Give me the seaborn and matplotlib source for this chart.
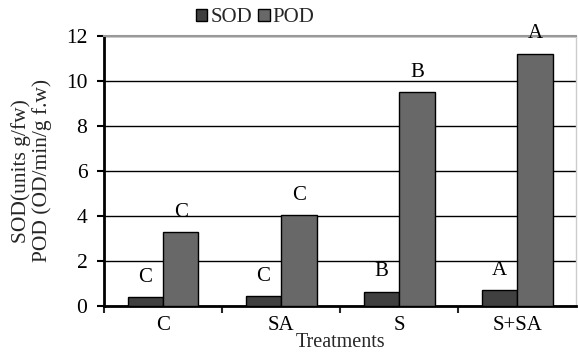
import matplotlib
matplotlib.use("Agg")
import matplotlib.pyplot as plt
import seaborn as sns
import pandas as pd
import numpy as np

treatments = ["C", "SA", "S", "S+SA"]
sod = [0.4, 0.45, 0.65, 0.7]
pod = [3.3, 4.05, 9.5, 11.2]
sod_letters = ["C", "C", "B", "A"]
pod_letters = ["C", "C", "B", "A"]

df = pd.DataFrame({
    "Treatment": treatments * 2,
    "Value": sod + pod,
    "Enzyme": ["SOD"] * 4 + ["POD"] * 4,
})

sns.set_theme(style="white")
plt.rcParams["font.family"] = ["Liberation Serif", "DejaVu Serif"]

fig, ax = plt.subplots(figsize=(5.78, 3.56), dpi=100)
fig.subplots_adjust(left=0.18, right=0.997, top=0.9, bottom=0.14)

sns.barplot(data=df, x="Treatment", y="Value", hue="Enzyme",
            palette={"SOD": "#404040", "POD": "#686868"},
            width=0.6, edgecolor="black", linewidth=1.0, ax=ax, zorder=3)

ax.set_ylim(0, 12)
ax.set_xlim(-0.5, 3.5)
ax.set_yticks(np.arange(0, 13, 2))
ax.yaxis.grid(True, color="black", linewidth=1.0, zorder=0)
ax.set_axisbelow(True)

# annotations
for cont, letters in zip(ax.containers, [sod_letters, pod_letters]):
    for bar, lab in zip(cont, letters):
        ax.text(bar.get_x() + bar.get_width() / 2, bar.get_height() + 0.45, lab,
                ha="center", va="bottom", fontsize=15, color="black")

ax.set_xlabel("Treatments", fontsize=14.5, labelpad=-1)
ax.set_ylabel("SOD(units g/fw)\nPOD (OD/min/g f.w)", fontsize=15.5, labelpad=10,
              linespacing=1.05)
ax.tick_params(axis="y", labelsize=15.5, length=5, width=1.5, direction="out", left=True, pad=7, colors="black")
ax.tick_params(axis="x", labelsize=15, length=0, pad=7, colors="black")

# category boundary ticks
ax.set_xticks([-0.5, 0.5, 1.5, 2.5], minor=True)
ax.tick_params(axis="x", which="minor", length=5, width=1.5, direction="out", bottom=True)

for s in ["left", "bottom"]:
    ax.spines[s].set_color("black")
    ax.spines[s].set_linewidth(2)
ax.spines["top"].set_color("#999999")
ax.spines["top"].set_linewidth(1.5)
ax.spines["right"].set_color("#cccccc")
ax.spines["right"].set_linewidth(1)

leg = ax.legend(loc="lower center", bbox_to_anchor=(0.32, 1.0), ncol=2,
                frameon=False, fontsize=15, handlelength=0.55, handleheight=0.55,
                handletextpad=0.15, columnspacing=0.3, borderaxespad=0)

fig.savefig("out.png", dpi=100)
